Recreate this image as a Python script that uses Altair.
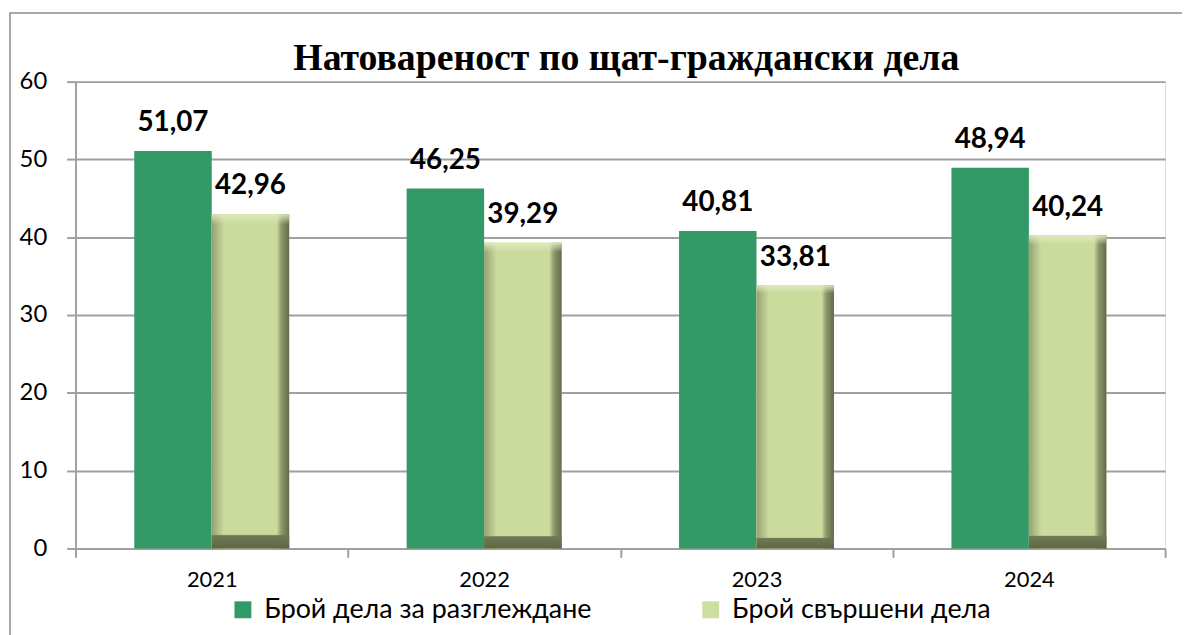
import altair as alt
import pandas as pd

years = ["2021", "2022", "2023", "2024"]
series = ["Брой дела за разглеждане", "Брой свършени дела"]
considered = [51.07, 46.25, 40.81, 48.94]
completed = [42.96, 39.29, 33.81, 40.24]
title_text = "Натовареност по щат-граждански дела"

rows = []
for i, y in enumerate(years):
    rows.append({"year": y, "series": series[0], "value": considered[i]})
    rows.append({"year": y, "series": series[1], "value": completed[i]})
df = pd.DataFrame(rows)

FONT = "Lato"
GREEN = "#339966"
LIGHT = "#cddea0"
GRID = "#a0a0a0"

x_enc = alt.X(
    "year:N",
    sort=years,
    scale=alt.Scale(paddingInner=0, paddingOuter=0),
    axis=alt.Axis(
        title=None, labelAngle=0, labelFont=FONT, labelFontSize=22,
        labelColor="black", labelPadding=12, tickBand="extent",
        tickSize=9, tickColor=GRID, tickWidth=2, domainColor=GRID,
        domainWidth=2, grid=False,
    ),
)
xo_enc = alt.XOffset(
    "series:N", sort=series,
    scale=alt.Scale(domain=series, paddingInner=0, paddingOuter=0.758),
)
y_enc = alt.Y(
    "value:Q",
    scale=alt.Scale(domain=[0, 60], nice=False),
    axis=alt.Axis(
        title=None, values=[0, 10, 20, 30, 40, 50, 60], labelFont=FONT,
        labelFontSize=24, labelColor="black", labelPadding=20,
        tickSize=9, tickColor=GRID, tickWidth=2, domainColor=GRID,
        domainWidth=2, gridColor=GRID, gridWidth=2,
    ),
)

base = alt.Chart(df)

bars = base.mark_bar().encode(
    x=x_enc, xOffset=xo_enc, y=y_enc,
    color=alt.Color(
        "series:N",
        scale=alt.Scale(domain=series, range=[GREEN, LIGHT]),
        legend=alt.Legend(
            title=None, orient="none", legendX=155, legendY=518,
            direction="horizontal", columns=2, columnPadding=106,
            labelFont=FONT, labelFontSize=27, labelColor="black",
            symbolType="square", symbolSize=289, symbolStrokeWidth=0,
            labelOffset=8, labelLimit=500,
        ),
    ),
)

h_grad = {
    "gradient": "linear", "x1": 0, "x2": 1, "y1": 0, "y2": 0,
    "stops": [
        {"offset": 0, "color": "#95a271"},
        {"offset": 0.16, "color": "#cadb9d"},
        {"offset": 0.84, "color": "#cadb9d"},
        {"offset": 0.9, "color": "#8e976a"},
        {"offset": 1, "color": "#646b4a"},
    ],
}
v_grad = {
    "gradient": "linear", "x1": 0, "x2": 0, "y1": 0, "y2": 1,
    "stops": [
        {"offset": 0, "color": "rgba(225,236,190,0.9)"},
        {"offset": 0.03, "color": "rgba(225,236,190,0)"},
        {"offset": 0.958, "color": "rgba(100,108,75,0)"},
        {"offset": 0.962, "color": "rgba(112,120,84,1)"},
        {"offset": 1, "color": "rgba(95,102,70,1)"},
    ],
}

light = base.transform_filter(alt.datum.series == series[1])
light_h = light.mark_bar(fill=h_grad).encode(x=x_enc, xOffset=xo_enc, y=y_enc)
light_v = light.mark_bar(fill=v_grad).encode(x=x_enc, xOffset=xo_enc, y=y_enc)

labels = base.transform_calculate(
    lbl="replace(format(datum.value, '.2f'), '.', ',')"
).mark_text(
    font=FONT, fontSize=28, fontWeight="bold", color="black",
    baseline="alphabetic", dy=-20,
).encode(x=x_enc, xOffset=xo_enc, y=y_enc, text="lbl:N")

frame = alt.Chart(alt.Data(values=[{}])).mark_rect(
    fillOpacity=0, stroke="#8c8c8c", strokeWidth=1.5
).encode(
    x=alt.value(-66), x2=alt.value(1200), y=alt.value(-69), y2=alt.value(700)
)

chart = alt.layer(frame, bars, light_h, light_v, labels).properties(
    width=1097, height=470,
    title=alt.TitleParams(
        title_text, font="Liberation Serif", fontSize=38, fontWeight="bold",
        color="black", anchor="middle", frame="group", baseline="alphabetic",
        offset=-96, dx=6,
    ),
    autosize=alt.AutoSizeParams(type="none"),
    padding={"left": 68, "top": 72, "right": 17, "bottom": 85},
).configure_view(stroke=None).configure(background="white")

chart.save("out.html", embed_options={"renderer": "svg", "actions": False})
